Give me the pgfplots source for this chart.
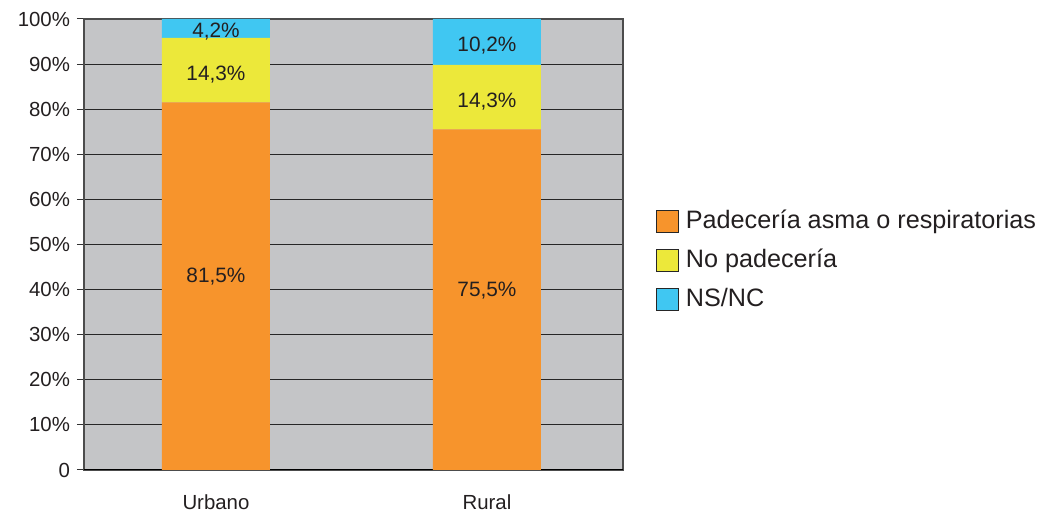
\documentclass[border=0pt]{standalone}
\usepackage{pgfplots}
\usepackage{pgfplotstable}
\pgfplotsset{compat=1.18}
\usepackage{fontspec}
\setmainfont{Liberation Sans}
\definecolor{corange}{HTML}{F7942C}
\definecolor{cyellow}{HTML}{ECE83A}
\definecolor{cblue}{HTML}{40C7F2}
\definecolor{cbg}{HTML}{C4C5C7}
\definecolor{ctext}{HTML}{231F20}
\pgfplotstableread{
x y
0 81.5
1 75.5
}\padece
\pgfplotstableread{
x y
0 14.3
1 14.3
}\nopadece
\pgfplotstableread{
x y
0 4.2
1 10.2
}\nsnc
\begin{document}
\begin{tikzpicture}
\useasboundingbox (-42pt,-24pt) rectangle (480.5pt,235pt);
\begin{axis}[
  at={(0,0)}, anchor=south west,
  scale only axis, width=269.5pt, height=225.5pt,
  ybar stacked, bar width=54pt,
  xmin=-0.487, xmax=1.502, ymin=0, ymax=100,
  xtick={0,1}, xticklabels={Urbano,Rural},
  x tick style={draw=none},
  xticklabel style={yshift=-5.5pt},
  ytick={0,10,...,100},
  yticklabels={0,10\%,20\%,30\%,40\%,50\%,60\%,70\%,80\%,90\%,100\%},
  ytick pos=left, tick align=outside,
  major tick length=3.5pt,
  y tick style={draw=black!80, line width=0.5pt},
  ymajorgrids, major grid style={draw=black!85, line width=0.55pt},
  axis background/.style={fill=cbg},
  axis line style={draw=black!70, line width=0.8pt},
  tick label style={font=\fontsize{10.2}{12}\selectfont, text=ctext},
  /pgf/number format/assume math mode=true,
  /pgf/number format/.cd, use comma, fixed, fixed zerofill, precision=1, /pgfplots/.cd,
  point meta=explicit,
  nodes near coords={\pgfmathprintnumber{\pgfplotspointmeta}\%},
  every node near coord/.append style={font=\fontsize{10.4}{12}\selectfont, text=ctext, anchor=center},
  sq legend/.style={legend image code/.code={\draw[##1, draw=black!85, line width=0.45pt] (0pt,-5.5pt) rectangle (11pt,5.5pt);}},
  legend style={draw=none, fill=none, at={(1,0.464)}, anchor=west, xshift=16.5pt,
    inner sep=0pt, outer sep=0pt, font=\fontsize{12.6}{15}\selectfont, text=ctext,
    row sep=5pt, column sep=2pt,
    nodes={inner sep=1.5pt, text height=9pt, text depth=2.5pt}},
  legend cell align=left,
]
\addplot[fill=corange, draw=none, sq legend, every node near coord/.append style={yshift=4.8pt}] table[x=x, y=y, meta=y]{\padece};
\addplot[fill=cyellow, draw=none, sq legend, every node near coord/.append style={yshift=-2pt}] table[x=x, y=y, meta=y]{\nopadece};
\addplot[fill=cblue, draw=none, sq legend, every node near coord/.append style={yshift=-1.8pt}] table[x=x, y=y, meta=y]{\nsnc};
\legend{Padecería asma o respiratorias, No padecería, NS/NC}
\draw[black, line width=1.1pt] (rel axis cs:0,0) -- (rel axis cs:1,0);
\end{axis}
\end{tikzpicture}
\end{document}
